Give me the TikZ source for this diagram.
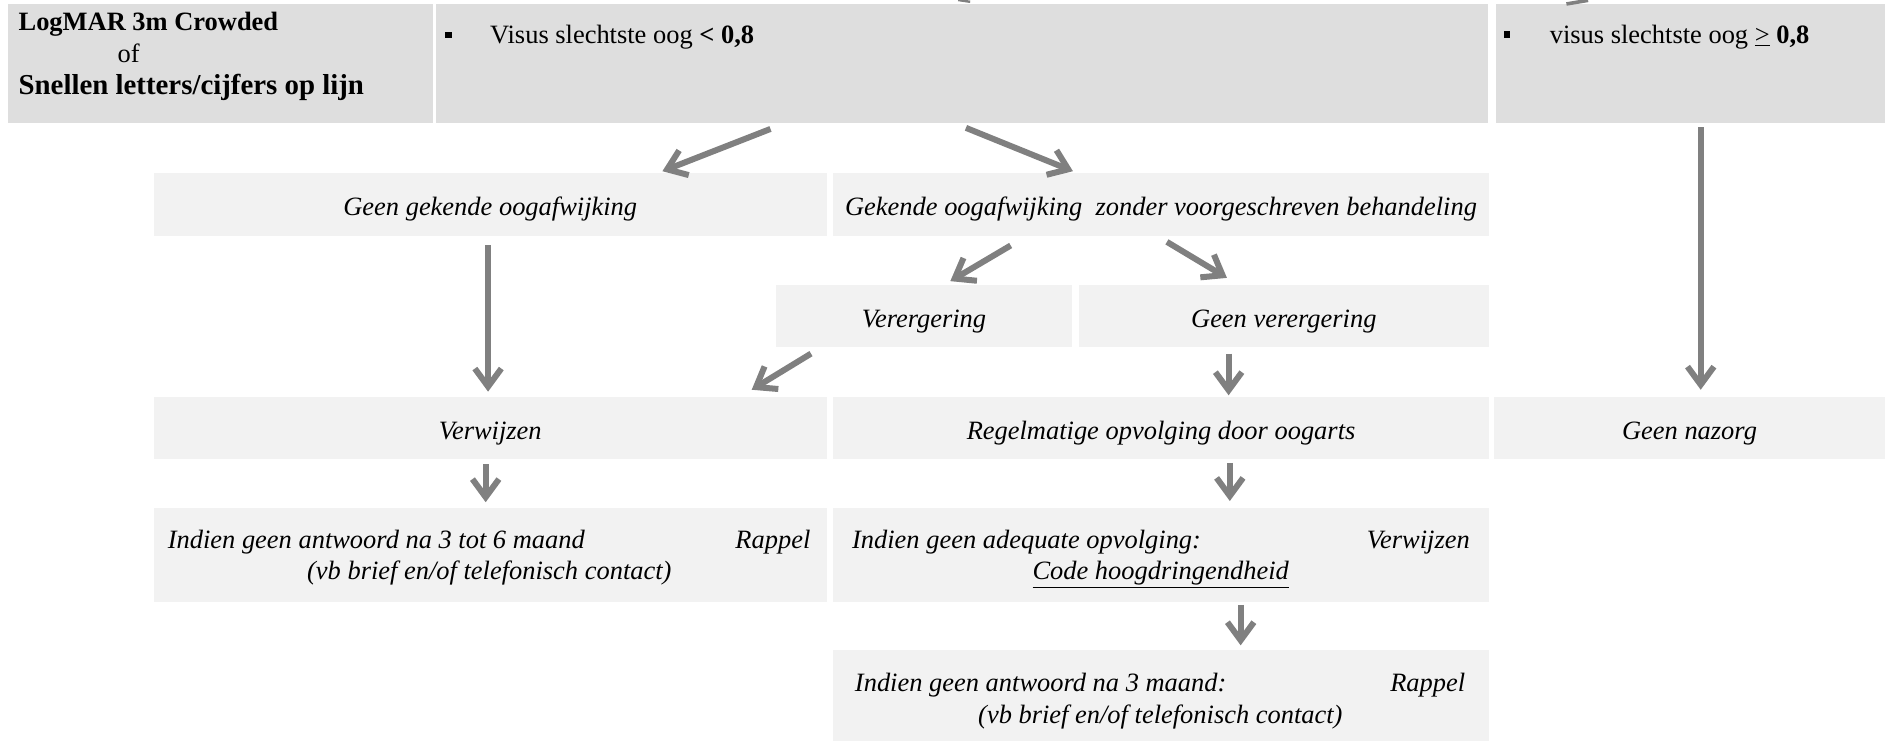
\documentclass[tikz,border=0pt]{standalone}
\usepackage{fontspec}
\setmainfont{Liberation Serif}
\usepackage{tikz}
\usetikzlibrary{arrows.meta,calc}

\definecolor{topgray}{HTML}{DEDEDE}
\definecolor{rowgray}{HTML}{F2F2F2}
\definecolor{pijlgray}{HTML}{808080}
\newcommand{\rowfont}{\fontsize{22}{26}\selectfont\itshape}
\newcommand{\topfont}{\fontsize{22}{26}\selectfont}

\begin{document}
\begin{tikzpicture}[x=1pt,y=-1pt,
    dbox/.style={fill=topgray,inner sep=0pt},
    lbox/.style={fill=rowgray,inner sep=0pt,font=\rowfont,text height=19pt,text depth=0pt},
    txt/.style={inner sep=0pt,font=\rowfont,anchor=base west},
    ttxt/.style={inner sep=0pt,font=\topfont,anchor=base west},
    blok/.style={fill=black,inner sep=0pt,minimum size=5.6pt},
    pijl/.style={draw=pijlgray,line width=5pt,-{Straight Barb[length=15pt,width=22pt]}}]
        \useasboundingbox (0,0) rectangle (1568,616.4);
        \node[dbox,minimum width=353,minimum height=99.3] (logmar) at (183.4,53) {};
        \node[dbox,minimum width=875.2,minimum height=99.3] (visusL) at (800.4,53) {};
        \node[dbox,minimum width=324,minimum height=99.3] (visusH) at (1406,53) {};
        \node[ttxt] (logmar1) at (15.3,25) {\textbf{LogMAR 3m Crowded}};
        \node[ttxt] (logmar2) at (97.6,52.4) {of};
        \node[ttxt,font=\fontsize{24}{28}\selectfont] (logmar3) at (15.3,78.2) {\textbf{Snellen letters/cijfers op lijn}};
        \node[blok] (blokL) at (373,29) {};
        \node[ttxt] (visusLtxt) at (407.5,36) {Visus slechtste oog \textbf{< 0,8}};
        \node[blok] (blokH) at (1253.5,28.5) {};
        \node[ttxt] (visusHtxt) at (1289,36) {visus slechtste oog \underline{>} \textbf{0,8}};
        \node[lbox,minimum width=559.6,minimum height=52.4] (geenGek) at (407.8,169.8) {Geen gekende oogafwijking};
        \node[lbox,minimum width=545,minimum height=52.4] (gekende) at (965.8,169.8) {Gekende oogafwijking\ \ zonder voorgeschreven behandeling};
        \node[lbox,minimum width=246.2,minimum height=51.9] (vererg) at (768.6,263) {Verergering};
        \node[lbox,minimum width=340.8,minimum height=51.9] (geenVer) at (1067.9,263) {Geen verergering};
        \node[lbox,minimum width=559.6,minimum height=51.8] (verwijzen) at (407.8,355.9) {Verwijzen};
        \node[lbox,minimum width=545,minimum height=51.8] (opvolging) at (965.8,355.9) {Regelmatige opvolging door oogarts};
        \node[lbox,minimum width=325.2,minimum height=51.8] (nazorg) at (1405.4,355.9) {Geen nazorg};
        \node[lbox,minimum width=559.6,minimum height=77.9] (rappelL) at (407.8,461.5) {};
        \node[lbox,minimum width=545,minimum height=77.9] (adequaat) at (965.8,461.5) {};
        \node[lbox,minimum width=545,minimum height=75.4] (rappelM) at (965.8,578.7) {};
        \node[txt] (rappelL1) at (139.4,456) {Indien geen antwoord na 3 tot 6 maand};
        \node[txt,anchor=base east] (rappelL2) at (674.3,456) {Rappel};
        \node[txt,anchor=base] (rappelL3) at (407,482) {(vb brief en/of telefonisch contact)};
        \node[txt] (adequaat1) at (708.6,456) {Indien geen adequate opvolging:};
        \node[txt,anchor=base east] (adequaat2) at (1222.8,456) {Verwijzen};
        \node[txt,anchor=base] (adequaat3) at (965.5,482) {\underline{Code hoogdringendheid}};
        \node[txt] (rappelM1) at (711,575.3) {Indien geen antwoord na 3 maand:};
        \node[txt,anchor=base east] (rappelM2) at (1219,575.3) {Rappel};
        \node[txt,anchor=base] (rappelM3) at (965.2,602) {(vb brief en/of telefonisch contact)};
        \draw[pijl] ($(visusL.south)+(-159.5,4.4)$) -- ($(geenGek.north)+(143.2,-1)$);
        \draw[pijl] ($(visusL.south)+(3.1,3.5)$) -- ($(gekende.north)+(-73.3,-1)$);
        \draw[pijl] ($(gekende.south)+(-125.1,8)$) -- ($(vererg.north)+(21.9,-3)$);
        \draw[pijl] ($(gekende.south)+(4.9,5)$) -- ($(geenVer.north)+(-47.3,-5.7)$);
        \draw[pijl] ($(vererg.south)+(-94,5)$) -- ($(verwijzen.north)+(217.5,-5.6)$);
        \draw[pijl] ($(geenVer.south)+(-45.9,5)$) -- ($(opvolging.north)+(56.2,-1)$);
        \draw[pijl] ($(geenGek.south)+(-1.8,8)$) -- ($(verwijzen.north)+(-1.8,-4)$);
        \draw[pijl] ($(verwijzen.south)+(-3.8,4)$) -- ($(rappelL.north)+(-3.8,-4.6)$);
        \draw[pijl] ($(opvolging.south)+(57.2,3)$) -- ($(adequaat.north)+(57.2,-5.6)$);
        \draw[pijl] ($(adequaat.south)+(66.2,2.5)$) -- ($(rappelM.north)+(66.2,-4)$);
        \draw[pijl] ($(visusH.south)+(8.7,2.8)$) -- ($(nazorg.north)+(9.3,-5.6)$);
        \coordinate (stubA1) at (797,0);
        \coordinate (stubA2) at (807,1.5);
        \coordinate (stubB1) at (1303,3.3);
        \coordinate (stubB2) at (1321,0.3);
        \draw[pijlgray,line width=2pt] (stubA1) -- (stubA2);
        \draw[pijlgray,line width=3pt] (stubB1) -- (stubB2);
    \end{tikzpicture}
\end{document}
